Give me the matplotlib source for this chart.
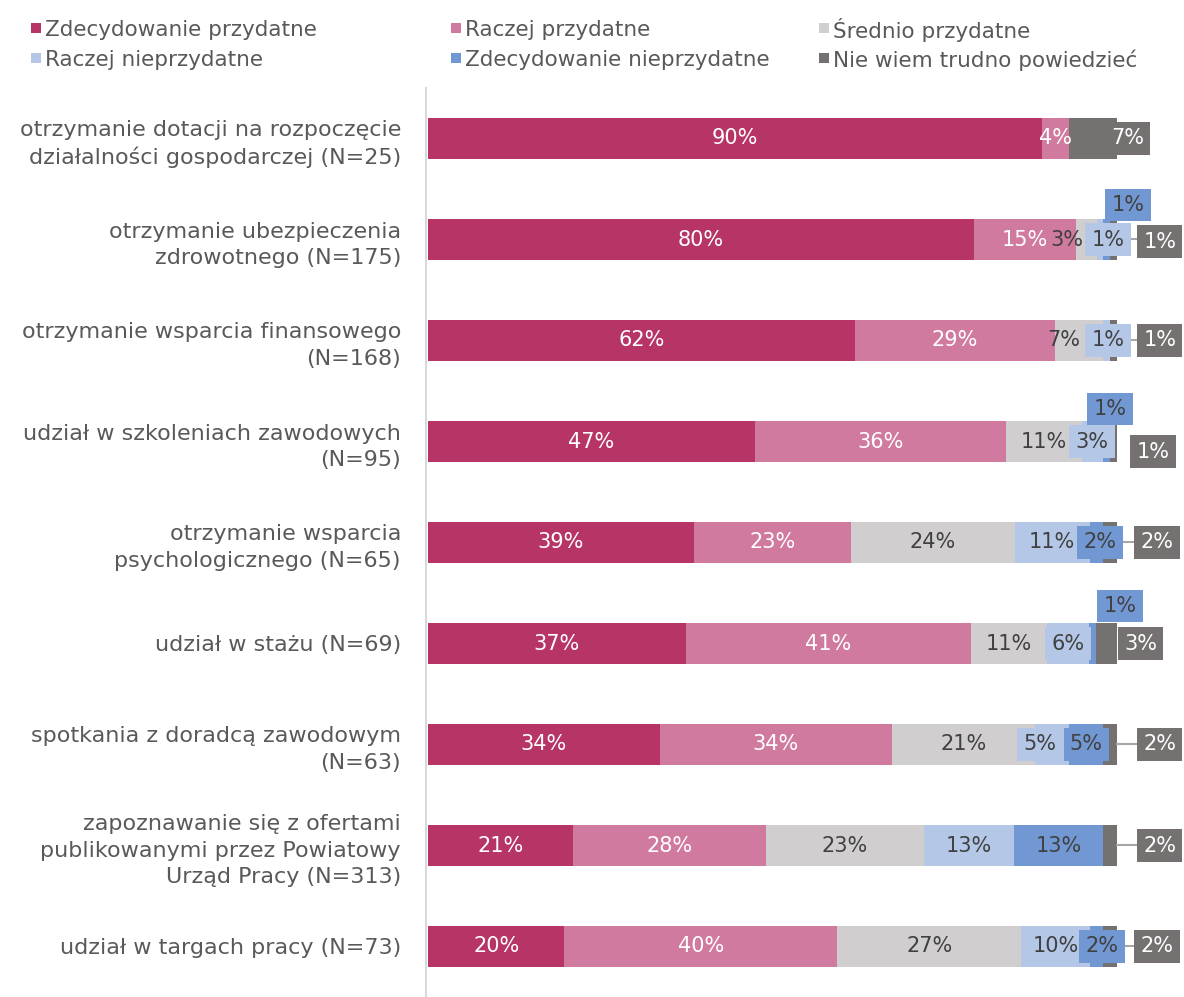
import numpy as np
import matplotlib.pyplot as plt
from matplotlib.patches import Rectangle

plt.rcParams['font.family'] = ['DejaVu Sans']

categories = [
    'otrzymanie dotacji na rozpoczęcie\ndziałalności gospodarczej (N=25)',
    'otrzymanie ubezpieczenia\nzdrowotnego (N=175)',
    'otrzymanie wsparcia finansowego\n(N=168)',
    'udział w szkoleniach zawodowych\n(N=95)',
    'otrzymanie wsparcia\npsychologicznego (N=65)',
    'udział w stażu (N=69)',
    'spotkania z doradcą zawodowym\n(N=63)',
    'zapoznawanie się z ofertami\npublikowanymi przez Powiatowy\nUrząd Pracy (N=313)',
    'udział w targach pracy (N=73)',
]
series_names = ['Zdecydowanie przydatne', 'Raczej przydatne', 'Średnio przydatne',
                'Raczej nieprzydatne', 'Zdecydowanie nieprzydatne', 'Nie wiem trudno powiedzieć']
zdec_przyd = [90, 80, 62, 47, 39, 37, 34, 21, 20]
racz_przyd = [4, 15, 29, 36, 23, 41, 34, 28, 40]
sred_przyd = [0, 3, 7, 11, 24, 11, 21, 23, 27]
racz_nieprzyd = [0, 1, 1, 3, 11, 6, 5, 13, 10]
zdec_nieprzyd = [0, 1, 0, 1, 2, 1, 5, 13, 2]
nie_wiem = [7, 1, 1, 1, 2, 3, 2, 2, 2]

colors = ['#B73466', '#D17A9F', '#D0CECE', '#B4C7E7', '#7298D4', '#767171']
txt_colors = ['white', 'white', '#404040', '#404040', '#404040', 'white']

# moved labels: (row, series) -> (x in %, dy in rows)
moved = {
    (0, 5): (101.5, 0),
    (1, 2): (92.7, 0), (1, 3): (98.7, 0), (1, 4): (101.6, -0.34), (1, 5): (106.2, 0.02),
    (2, 2): (92.3, 0), (2, 3): (98.7, 0), (2, 5): (106.2, 0),
    (3, 3): (96.4, 0), (3, 4): (99.0, -0.32), (3, 5): (105.2, 0.10),
    (4, 4): (97.5, 0), (4, 5): (105.8, 0),
    (5, 4): (100.4, -0.37), (5, 5): (103.4, 0),
    (6, 3): (88.8, 0), (6, 5): (106.2, 0),
    (7, 5): (106.2, 0),
    (8, 4): (97.8, 0), (8, 5): (105.8, 0),
}
leader_rows = [1, 2, 4, 6, 7, 8]

data = np.array([zdec_przyd, racz_przyd, sred_przyd, racz_nieprzyd, zdec_nieprzyd, nie_wiem], dtype=float)
shares = data / data.sum(axis=0)

fig = plt.figure(figsize=(11.84, 9.97), dpi=100)
ax = fig.add_axes([428 / 1184, 0, 689 / 1184, 909 / 997])
for side in ['top', 'right', 'bottom']:
    ax.spines[side].set_visible(False)
ax.spines['left'].set_color('#D9D9D9')
ax.spines['left'].set_linewidth(1.5)
ax.spines['left'].set_position(('data', -0.003))

y = np.arange(len(categories))
left = np.zeros(len(categories))
for s in range(6):
    ax.barh(y, shares[s], left=left, height=0.405, color=colors[s], linewidth=0)
    for r in range(len(categories)):
        if data[s, r] == 0:
            continue
        xc = left[r] + shares[s, r] / 2
        dy = 0
        if (r, s) in moved:
            xc = moved[(r, s)][0] / 100
            dy = moved[(r, s)][1]
        box = None
        if s >= 3:
            box = dict(boxstyle='square,pad=0.3', facecolor=colors[s], edgecolor='none')
        ax.text(xc, r + dy, '%d%%' % data[s, r], ha='center', va='center', fontsize=15,
                color=txt_colors[s], bbox=box, clip_on=False, zorder=5)
    left = left + shares[s]

for r in leader_rows:
    ax.plot([1.0, 1.028], [r, r], color='#A6A6A6', lw=1.5, clip_on=False, zorder=4)

ax.set_xlim(0, 1)
ax.set_ylim(len(categories) - 0.5, -0.5)
ax.set_xticks([])
ax.set_yticks(y)
ax.set_yticklabels(categories)
ax.tick_params(axis='y', length=0, pad=18, labelsize=16, labelcolor='#595959')
for t in ax.get_yticklabels():
    t.set_linespacing(1.4)

# legend, 3 columns x 2 rows
col_x = [32, 452, 820]
row_y = [28, 58]
for i, name in enumerate(series_names):
    cx = col_x[i % 3]
    cy = row_y[i // 3]
    fig.add_artist(Rectangle(((cx - 1) / 1184, 1 - (cy + 5) / 997), 10 / 1184, 10 / 997,
                             transform=fig.transFigure, facecolor=colors[i], edgecolor='none'))
    fig.text((cx + 13) / 1184, 1 - cy / 997, name, fontsize=15.5, color='#595959',
             ha='left', va='center_baseline')

fig.savefig('out.png', dpi=100)
